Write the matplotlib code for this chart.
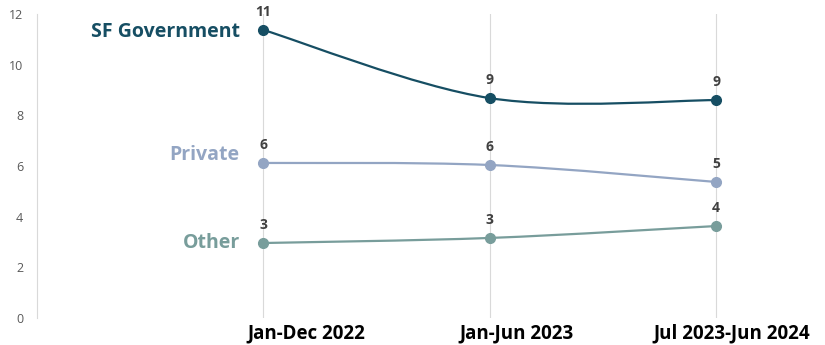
import numpy as np
import matplotlib.pyplot as plt
from matplotlib.path import Path
from matplotlib.patches import PathPatch

plt.rcParams['font.family'] = ['Open Sans', 'DejaVu Sans']

periods = ["Jan-Dec 2022", "Jan-Jun 2023", "Jul 2023-Jun 2024"]
series = ["SF Government", "Private", "Other"]
sf_gov = [11.37, 8.68, 8.6]
private = [6.12, 6.04, 5.37]
other = [2.96, 3.16, 3.63]
values = [sf_gov, private, other]
colors = ["#164e63", "#93a5c3", "#789d9b"]
name_offsets = [-2, 8, 0]       # px, nudge of the series names
label_shifts = [43, 27, 16]     # px, category labels sit right of their gridlines


def smooth_path(x, y):
    # Catmull-Rom style smoothing (like Excel's smoothed lines)
    x = np.asarray(x, float)
    y = np.asarray(y, float)
    px = np.concatenate([[x[0]], x, [x[-1]]])
    py = np.concatenate([[y[0]], y, [y[-1]]])
    verts = [(x[0], y[0])]
    codes = [Path.MOVETO]
    for i in range(1, len(px) - 2):
        c1 = (px[i] + (px[i + 1] - px[i - 1]) / 6, py[i] + (py[i + 1] - py[i - 1]) / 6)
        c2 = (px[i + 1] - (px[i + 2] - px[i]) / 6, py[i + 1] - (py[i + 2] - py[i]) / 6)
        verts += [c1, c2, (px[i + 1], py[i + 1])]
        codes += [Path.CURVE4] * 3
    return Path(verts, codes)


fig = plt.figure(figsize=(8.25, 3.45), dpi=100)
ax = fig.add_axes([37 / 825, 27 / 345, (818 - 37) / 825, (331 - 27) / 345])

xs = np.arange(len(periods))
for xi in xs:
    ax.axvline(xi, color="#d9d9d9", lw=0.8, zorder=0)

for name, vals, c, off in zip(series, values, colors, name_offsets):
    ax.add_patch(PathPatch(smooth_path(xs, vals), fc="none", ec=c, lw=1.6, zorder=2))
    ax.plot(xs, vals, "o", color=c, ms=7, zorder=3)
    for xi, v in zip(xs, vals):
        ax.annotate(f"{v:.0f}", (xi, v), xytext=(0, 8), textcoords="offset points",
                    ha="center", va="bottom", fontsize=10, fontweight="bold", color="#404040")
    ax.annotate(name, (xs[0], vals[0]), xytext=(-17, off * 0.72), textcoords="offset points",
                ha="right", va="center", fontsize=14, fontweight="bold", color=c)

# category labels
for xi, lab, dx in zip(xs, periods, label_shifts):
    ax.annotate(lab, (xi, 0), xytext=(dx * 0.72, -15 * 0.72), textcoords="offset points",
                ha="center", va="center", fontsize=13.5, fontweight="bold", color="black",
                annotation_clip=False)

ax.set_xlim(-1, 2.45)
ax.set_ylim(0, 12)
ax.set_yticks(range(0, 13, 2))
ax.set_xticks([])
ax.tick_params(axis="both", length=0)
ax.tick_params(axis="y", labelsize=9, labelcolor="#595959", pad=10)
for s in ["top", "right", "bottom"]:
    ax.spines[s].set_visible(False)
ax.spines["left"].set_color("#d9d9d9")
ax.spines["left"].set_linewidth(0.8)

fig.savefig("out.png", dpi=100)
